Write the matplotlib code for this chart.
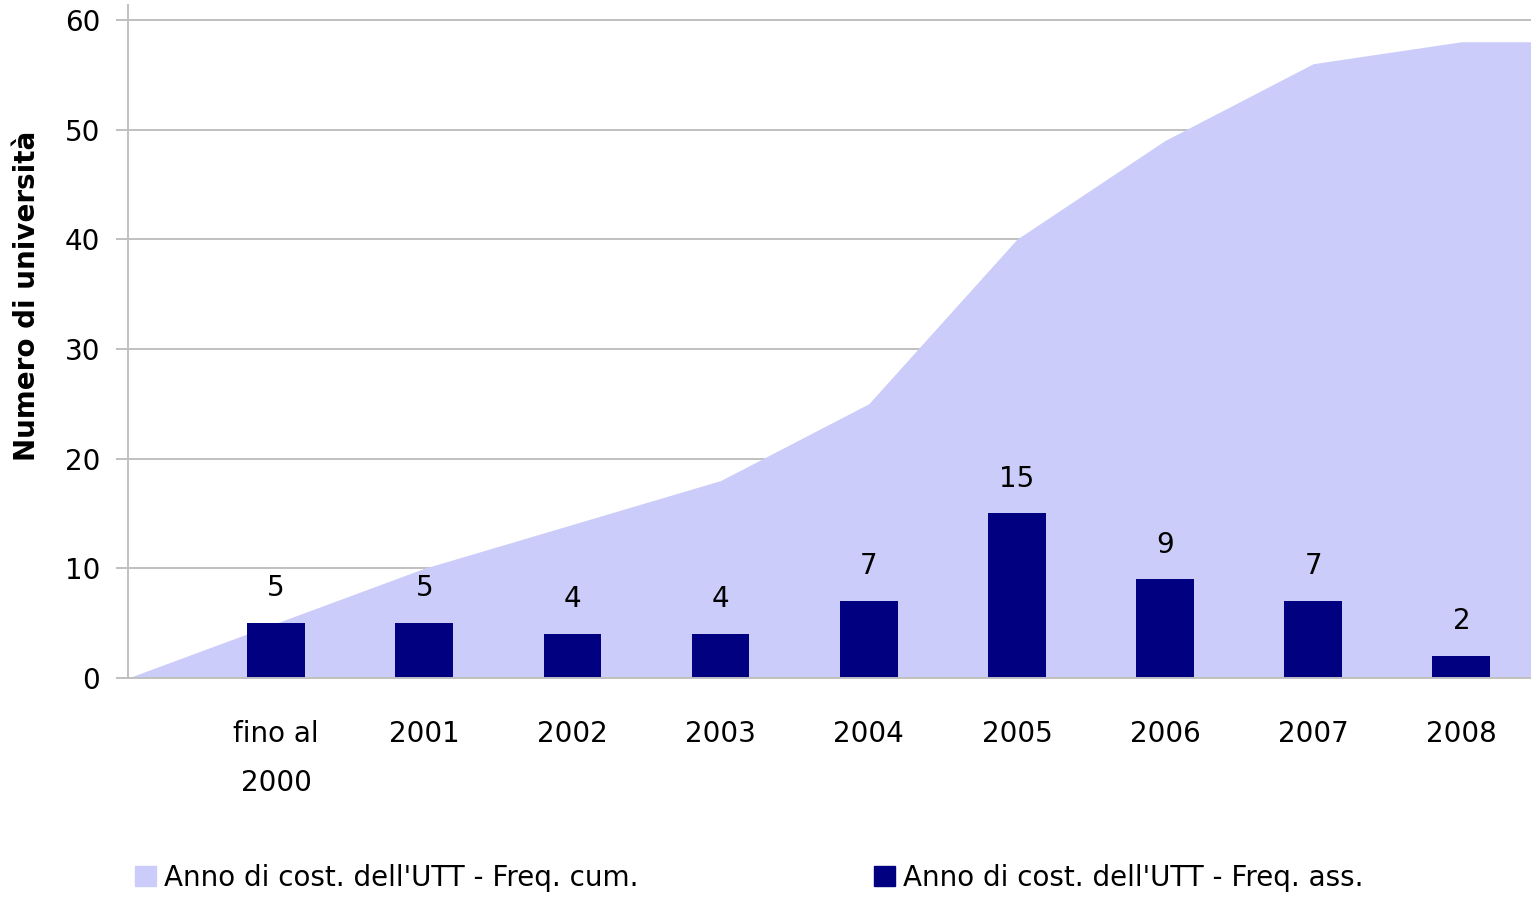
import numpy as np
import matplotlib.pyplot as plt
from matplotlib.patches import Patch

categorie = ["fino al\n2000", "2001", "2002", "2003", "2004", "2005", "2006", "2007", "2008"]
freq_ass = [5, 5, 4, 4, 7, 15, 9, 7, 2]
freq_cum = [5, 10, 14, 18, 25, 40, 49, 56, 58]

col_cum = "#ccccfa"
col_ass = "#000080"
grigio = "#c0c0c0"

plt.rcParams["font.family"] = "DejaVu Sans"
fs = 20

fig = plt.figure(figsize=(15.31, 8.97), dpi=100)
ax = fig.add_axes([128 / 1531, 1 - 678 / 897, 1 - 128 / 1531, 673 / 897])

x = np.arange(len(categorie))
xmax = 8.47
# area starts at zero one slot before the first category and runs to the right edge
x_area = np.r_[-1, x, xmax]
y_area = np.r_[0, freq_cum, freq_cum[-1]]
ax.fill_between(x_area, 0, y_area, color=col_cum, lw=0, zorder=2)

barre = ax.bar(x, freq_ass, width=0.39, color=col_ass, zorder=3)
for xi, v in zip(x, freq_ass):
    ax.annotate(str(v), (xi, v), xytext=(0, 25), textcoords="offset points",
                ha="center", va="center", fontsize=fs)

ax.set_xlim(-1, xmax)
ax.set_ylim(0, 61.35)
ax.set_yticks(range(0, 61, 10))
ax.set_xticks(x)
ax.set_xticklabels(categorie, fontsize=fs, linespacing=1.95)
ax.tick_params(axis="x", length=0, pad=30)
ax.tick_params(axis="y", length=9, width=1.4, color=grigio, labelsize=fs, pad=11)
ax.grid(axis="y", color=grigio, lw=1.4, zorder=1)
ax.set_axisbelow(True)
for s in ["top", "right"]:
    ax.spines[s].set_visible(False)
for s in ["left", "bottom"]:
    ax.spines[s].set_color(grigio)
    ax.spines[s].set_linewidth(1.4)
    ax.spines[s].set_zorder(4)

fig.text(27 / 1531, 1 - 296 / 897, "Numero di università", rotation=90,
         ha="center", va="center", fontsize=fs, fontweight="bold")

leg_kw = dict(frameon=False, fontsize=fs, handlelength=0.75, handleheight=0.75,
              handletextpad=0.3, borderpad=0, borderaxespad=0, loc="center left")
l1 = fig.legend([Patch(color=col_cum)], ["Anno di cost. dell'UTT - Freq. cum."],
                bbox_to_anchor=(135 / 1531, 1 - 878 / 897), **leg_kw)
l2 = fig.legend([Patch(color=col_ass)], ["Anno di cost. dell'UTT - Freq. ass."],
                bbox_to_anchor=(874 / 1531, 1 - 878 / 897), **leg_kw)

fig.savefig("out.png", dpi=100)
